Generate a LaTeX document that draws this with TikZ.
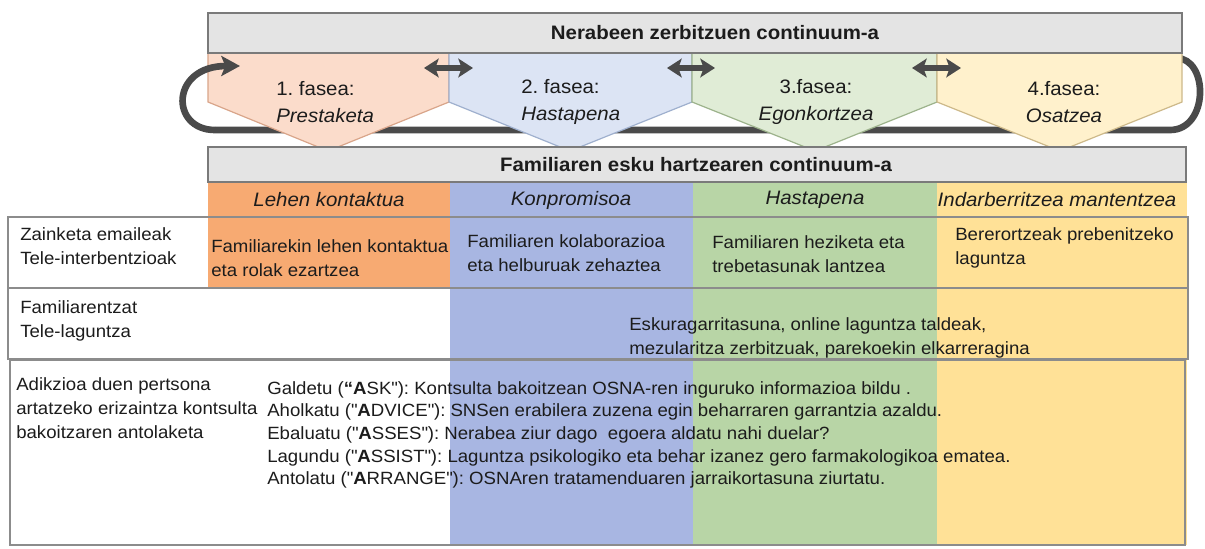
\documentclass[tikz,border=0pt]{standalone}
\usepackage{fontspec}
\setmainfont{Liberation Sans}[FakeStretch=1.05]
\usetikzlibrary{arrows.meta}
\definecolor{textc}{HTML}{1C1C1C}
\definecolor{barfill}{HTML}{E4E4E4}
\definecolor{barline}{HTML}{7A7A7A}
\definecolor{tabline}{HTML}{8C8C8C}
\definecolor{loopc}{HTML}{4A4A4A}
\definecolor{colO}{HTML}{F7AA72}
\definecolor{colB}{HTML}{A8B6E2}
\definecolor{colG}{HTML}{B8D5A6}
\definecolor{colY}{HTML}{FFE197}
\definecolor{phO}{HTML}{FBDCCB}
\definecolor{phOl}{HTML}{D9A58A}
\definecolor{phB}{HTML}{DCE4F4}
\definecolor{phBl}{HTML}{9FB0CE}
\definecolor{phG}{HTML}{E0ECD6}
\definecolor{phGl}{HTML}{9DB38C}
\definecolor{phY}{HTML}{FFF1CC}
\definecolor{phYl}{HTML}{CDB98A}
\frenchspacing
\begin{document}
\begin{tikzpicture}[x=0.75pt,y=-0.75pt,
  bar/.style={fill=barfill,draw=barline,line width=1.5pt},
  rowbox/.style={draw=tabline,line width=1.6pt},
  loopline/.style={draw=loopc,line width=5pt},
  dbl/.style={draw=loopc,line width=3.8pt,{Stealth[length=11pt,width=14pt,inset=2.5pt]}-{Stealth[length=11pt,width=14pt,inset=2.5pt]}},
  txt/.style={font=\fontsize{13.3}{16.5}\selectfont,inner sep=0pt,align=left,text=textc},
  big/.style={font=\fontsize{14.6}{18}\selectfont,inner sep=0pt,text=textc},
  ttl/.style={font=\fontsize{14.6}{18}\selectfont\bfseries,inner sep=0pt,text=textc}]
\useasboundingbox (0,0) rectangle (1205,549);
\fill[white] (0,0) rectangle (1205,549);

% coordinates of the loop
\coordinate (ltip) at (240,66);
\coordinate (lbot) at (215,130);
\coordinate (rbot) at (1170,130);
\coordinate (rtop) at (1176,58);

% loop behind the phases
\draw[loopline] (rtop) .. controls (1209,58) and (1209,130) .. (rbot) -- (lbot);

% phase pentagons
\filldraw[fill=phO,draw=phOl,line width=0.9pt] (208,53) -- (449,53) -- (449,102) -- (328,151) -- (208,102) -- cycle;
\filldraw[fill=phB,draw=phBl,line width=0.9pt] (449,53) -- (692,53) -- (692,102) -- (570,151) -- (449,102) -- cycle;
\filldraw[fill=phG,draw=phGl,line width=0.9pt] (692,53) -- (937,53) -- (937,102) -- (815,151) -- (692,102) -- cycle;
\filldraw[fill=phY,draw=phYl,line width=0.9pt] (937,53) -- (1182,53) -- (1182,102) -- (1060,151) -- (937,102) -- cycle;

% left loop end with arrow head, on top
\draw[loopline,-{Stealth[length=14pt,width=15pt,inset=3pt]}] (lbot) .. controls (170,130) and (170,66) .. (ltip);

% double arrows between phases
\coordinate (a1l) at (424,68); \coordinate (a1r) at (473,68);
\coordinate (a2l) at (667,68); \coordinate (a2r) at (715,68);
\coordinate (a3l) at (912,68); \coordinate (a3r) at (961,68);
\draw[dbl] (a1l) -- (a1r);
\draw[dbl] (a2l) -- (a2r);
\draw[dbl] (a3l) -- (a3r);

% top bar
\draw[bar] (208,13) rectangle (1182,53);
\node[ttl] (t1) at (715,33) {Nerabeen zerbitzuen continuum-a};

% phase texts
\node[big,align=left,anchor=west] (p1) at (276,102) {1. fasea:\\[2pt]\itshape Prestaketa};
\node[big,align=left,anchor=west] (p2) at (521,102) {2. fasea:\\[2pt]\itshape Hastapena};
\node[big,align=center] (p3) at (816,102) {3.fasea:\\[2pt]\itshape Egonkortzea};
\node[big,align=center] (p4) at (1064,102) {4.fasea:\\[2pt]\itshape Osatzea};

% columns
\fill[colO] (208,182) rectangle (450,288);
\fill[colB] (450,182) rectangle (693,545);
\fill[colG] (693,182) rectangle (937,545);
\fill[colY] (937,182) rectangle (1187,545);

% second bar
\draw[bar] (208,147) rectangle (1186,182);
\node[ttl] (t2) at (696,165) {Familiaren esku hartzearen continuum-a};

% headers
\node[big,font=\fontsize{14.6}{18}\selectfont\itshape] (h1) at (329,200) {Lehen kontaktua};
\node[big,font=\fontsize{14.6}{18}\selectfont\itshape] (h2) at (571,200) {Konpromisoa};
\node[big,font=\fontsize{14.6}{18}\selectfont\itshape] (h3) at (815,200) {Hastapena};
\node[big,font=\fontsize{14.6}{18}\selectfont\itshape] (h4) at (1057,200) {Indarberritzea mantentzea};

% row boxes
\draw[rowbox] (8,217) rectangle (1188,288);
\draw[rowbox] (8,288) rectangle (1188,359);
\draw[rowbox] (10,360) rectangle (1185,545);

% row labels
\node[txt,anchor=west] (r1) at (20,246) {Zainketa emaileak\\[1.5pt]Tele-interbentzioak};
\node[txt,anchor=west] (r2) at (20,321) {Familiarentzat\\[1.5pt]Tele-laguntza};
\node[txt,anchor=west] (r3) at (16,408) {Adikzioa duen pertsona\\[1.5pt]artatzeko erizaintza kontsulta\\[1.5pt]bakoitzaren antolaketa};

% row 1 cells
\node[txt,anchor=west] (c1) at (211,258) {Familiarekin lehen kontaktua\\[1.5pt]eta rolak ezartzea};
\node[txt,anchor=west] (c2) at (467,253) {Familiaren kolaborazioa\\[1.5pt]eta helburuak zehaztea};
\node[txt,anchor=west] (c3) at (712,254) {Familiaren heziketa eta\\[1.5pt]trebetasunak lantzea};
\node[txt,anchor=west] (c4) at (955,248) {Bererortzeak prebenitzeko\\[1.5pt]laguntza};

% row 2 cell
\node[txt,anchor=west] (d1) at (629,338) {Eskuragarritasuna, online laguntza taldeak,\\[1.5pt]mezularitza zerbitzuak, parekoekin elkarreragina};

% row 3 cell
\node[txt,anchor=west] (e1) at (267,435) {Galdetu ({\bfseries “A}SK\textquotedbl): Kontsulta bakoitzean OSNA-ren inguruko informazioa bildu .\\[0.5pt]
Aholkatu (\textquotedbl{\bfseries A}DVICE\textquotedbl): SNSen erabilera zuzena egin beharraren garrantzia azaldu.\\[0.5pt]
Ebaluatu (\textquotedbl{\bfseries A}SSES\textquotedbl): Nerabea ziur dago\ \ egoera aldatu nahi duelar?\\[0.5pt]
Lagundu (\textquotedbl{\bfseries A}SSIST\textquotedbl): Laguntza psikologiko eta behar izanez gero farmakologikoa ematea.\\[0.5pt]
Antolatu (\textquotedbl{\bfseries A}RRANGE\textquotedbl): OSNAren tratamenduaren jarraikortasuna ziurtatu.};
\end{tikzpicture}
\end{document}
